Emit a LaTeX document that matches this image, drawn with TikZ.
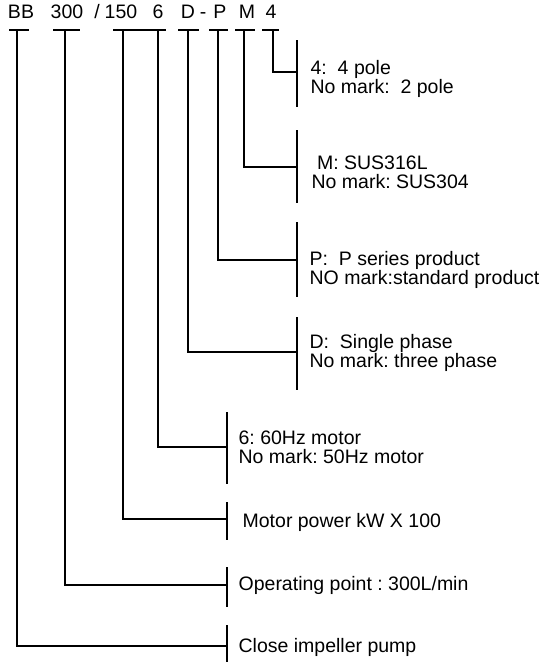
\documentclass[tikz,border=0pt]{standalone}
\usepackage{fontspec}
\setmainfont{Liberation Sans}
\begin{document}
\begin{tikzpicture}[x=1pt, y=-1pt, line width=1.3pt,
  font=\fontsize{19.5}{19}\selectfont,
  code/.style={anchor=base, inner sep=0pt},
  desc/.style={anchor=base west, inner sep=0pt, align=left}]
\useasboundingbox (0,0) rectangle (543,662);
% model code
\node [code] (bb) at (21, 18.5) {BB};
\node [code] (c300) at (67, 18.5) {300};
\node [code] (slash) at (97, 18.5) {/};
\node [code] (c150) at (121, 18.5) {150};
\node [code] (c6) at (158, 18.5) {6};
\node [code] (cD) at (188, 18.5) {D};
\node [code] (dash) at (203, 18.5) {-};
\node [code] (cP) at (220, 18.5) {P};
\node [code] (cM) at (247, 18.5) {M};
\node [code] (c4) at (271, 18.5) {4};
% stem tops
\coordinate (tBB) at (17, 30);
\coordinate (t300) at (65, 30);
\coordinate (t150) at (123, 30);
\coordinate (t6) at (158, 30);
\coordinate (tD) at (188, 30);
\coordinate (tP) at (218, 30);
\coordinate (tM) at (244, 30);
\coordinate (t4) at (273, 30);
% ticks under the code
\draw (9, 30) to (29, 30);
\draw (53, 30) to (80, 30);
\draw (113, 30) to (150, 30);
\draw (148, 30) to (166, 30);
\draw (178, 30) to (199, 30);
\draw (209, 30) to (228, 30);
\draw (235, 30) to (255, 30);
\draw (262, 30) to (279, 30);
% junctions on the brackets
\coordinate (j4) at (297, 72);
\coordinate (jM) at (297, 167);
\coordinate (jP) at (297, 260);
\coordinate (jD) at (297, 352);
\coordinate (j6) at (227, 447);
\coordinate (j150) at (227, 519);
\coordinate (j300) at (227, 585);
\coordinate (jBB) at (227, 646);
% brackets
\draw (297, 40) to (297, 107);
\draw (297, 130) to (297, 203);
\draw (297, 222) to (297, 297);
\draw (297, 317) to (297, 390);
\draw (227, 412) to (227, 484);
\draw (227, 502) to (227, 540);
\draw (227, 567) to (227, 607);
\draw (227, 625) to (227, 662);
% stems
\draw (t4) |- (j4);
\draw (tM) |- (jM);
\draw (tP) |- (jP);
\draw (tD) |- (jD);
\draw (t6) |- (j6);
\draw (t150) |- (j150);
\draw (t300) |- (j300);
\draw (tBB) |- (jBB);
% meanings (base = last line)
\node [desc] (l4) at (310, 93) {4:\ \ 4 pole\\No mark:\ \ 2 pole};
\node [desc] (lM) at (311, 188) {\ M: SUS316L\\No mark:\ SUS304};
\node [desc] (lP) at (309, 284) {P:\ \ P series product\\NO mark:standard product};
\node [desc] (lD) at (309, 367) {D:\ \ Single phase\\No mark:\ three phase};
\node [desc] (l6) at (238, 463) {6:\ 60Hz motor\\No mark:\ 50Hz\ motor};
\node [desc] (l150) at (242, 527) {Motor power kW X 100};
\node [desc] (l300) at (238, 590) {Operating point\ :\ 300L/min};
\node [desc] (lBB) at (238, 652) {Close impeller pump};
\end{tikzpicture}
\end{document}
